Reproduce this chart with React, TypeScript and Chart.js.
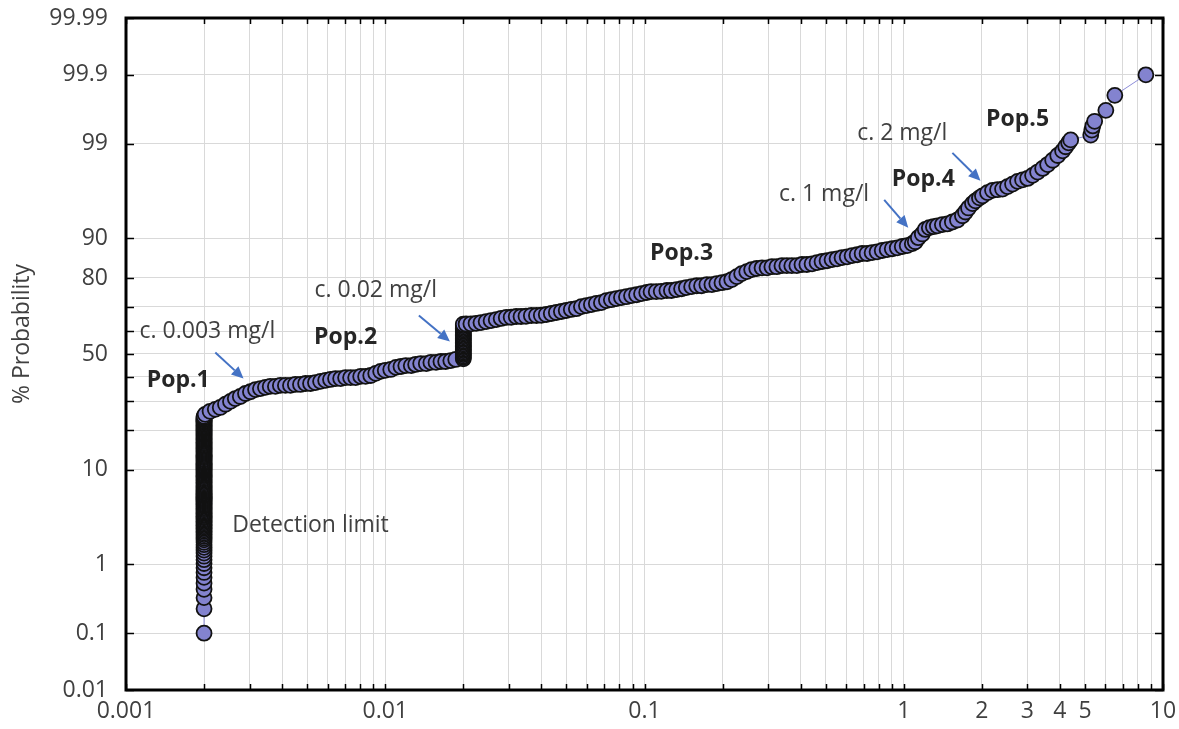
import { useEffect, useRef } from 'react';
import { Chart, registerables } from 'chart.js';

Chart.register(...registerables);

const FONT = '"Open Sans", "Liberation Sans", sans-serif';

// Concentration reported at the analytical detection limit (mg/l)
const detectionLimit = 0.002;
// Cumulative % probability of the samples reported at the detection limit
const detectionLimitPct = [
  0.1, 0.24, 0.35, 0.46, 0.56, 0.67, 0.78, 0.9, 1.02, 1.14, 1.26, 1.38, 1.5, 1.62, 1.74, 1.86,
  1.98, 2.08, 2.18, 2.28, 2.38, 2.48, 2.58, 2.68, 2.78, 2.88, 2.98, 3.08, 3.18, 3.28, 3.38,
  3.48, 3.58, 3.68, 3.78, 3.88, 3.98, 4.1, 4.22, 4.34, 4.46, 4.58, 4.7, 4.82, 4.94, 5.06,
  5.18, 5.3, 5.42, 5.54, 5.66, 5.78, 5.9, 6.02, 6.14, 6.26, 6.4, 6.55, 6.7, 6.85, 7.0, 7.15,
  7.3, 7.5, 7.7, 7.9, 8.1, 8.3, 8.5, 8.7, 8.9, 9.1, 9.3, 9.5, 9.7, 9.9, 10.1, 10.3, 10.5,
  10.7, 10.9, 11.1, 11.3, 11.5, 11.75, 12.0, 12.25, 12.5, 12.75, 13.0, 13.25, 13.5, 13.75,
  14.0, 14.25, 14.5, 14.75, 15.0, 15.25, 15.5, 15.75, 16.0, 16.3, 16.6, 16.9, 17.2, 17.5,
  17.8, 18.1, 18.4, 18.7, 19.0, 19.3, 19.6, 19.9, 20.2, 20.5, 20.8, 21.1, 21.4, 21.7, 22.0,
  22.3, 22.6, 22.9, 23.2, 23.5, 23.8, 24.1, 24.5,
];

// Populations 1 and 2: above the detection limit, up to c. 0.02 mg/l
const pop12Conc = [
  0.00202, 0.00211, 0.00221, 0.00231, 0.00242, 0.00253, 0.00264, 0.00276, 0.00289, 0.00302,
  0.00316, 0.0033, 0.00345, 0.0036, 0.00377, 0.00394, 0.00412, 0.00431, 0.0045, 0.00471,
  0.00493, 0.00515, 0.00538, 0.00563, 0.00589, 0.00615, 0.00643, 0.00673, 0.00703, 0.00735,
  0.00769, 0.00804, 0.0084, 0.00879, 0.00919, 0.0096, 0.01, 0.0105, 0.011, 0.0115,
  0.012, 0.0126, 0.0131, 0.0137, 0.0144, 0.015, 0.0157, 0.0164, 0.0171, 0.0179, 0.0187,
];
const pop12Pct = [
  25.2, 26.3, 27.0, 27.7, 28.9, 30.0, 31.1, 31.9, 33.1, 33.8,
  34.7, 35.1, 35.6, 36.0, 36.0, 36.4, 36.4, 36.4, 36.8, 36.8,
  37.2, 37.2, 37.6, 38.1, 38.5, 38.9, 39.3, 39.3, 39.7, 39.7,
  39.7, 40.2, 40.2, 40.6, 41.5, 42.4, 42.8, 43.2, 44.1, 44.5,
  44.9, 44.9, 45.4, 45.8, 45.8, 46.3, 46.3, 46.7, 46.7, 47.1, 47.6,
];

// Samples reported at 0.02 mg/l
const reportedLevel = 0.02;
const reportedLevelPct = [
  47.9, 48.5, 49.1, 49.7, 50.3, 50.9, 51.5, 52.1, 52.7, 53.3, 53.9, 54.5, 55.1, 55.7, 56.3,
  56.9, 57.5, 58.1, 58.7, 59.3, 59.9, 60.5, 61.1, 61.7, 62.3, 62.9,
];

// Population 3: c. 0.02 to c. 1 mg/l
const pop3Conc = [
  0.0205, 0.0214, 0.0224, 0.0234, 0.0245, 0.0256, 0.0268, 0.028, 0.0293, 0.0306,
  0.032, 0.0334, 0.0349, 0.0366, 0.0383, 0.04, 0.0418, 0.0437, 0.0457, 0.0478,
  0.0499, 0.0522, 0.0546, 0.0571, 0.0597, 0.0624, 0.0652, 0.0682, 0.0713, 0.0745,
  0.0779, 0.0815, 0.0852, 0.0891, 0.0932, 0.0974, 0.102, 0.106, 0.111, 0.116,
  0.122, 0.127, 0.133, 0.139, 0.145, 0.152, 0.159, 0.166, 0.174, 0.182,
  0.19, 0.199, 0.208, 0.217, 0.227, 0.237, 0.248, 0.259, 0.271, 0.284,
  0.297, 0.31, 0.324, 0.339, 0.354, 0.37, 0.387, 0.405, 0.423, 0.443,
  0.463, 0.484, 0.506, 0.529, 0.553, 0.578, 0.605, 0.632, 0.661, 0.691,
  0.722, 0.755, 0.789, 0.826, 0.863, 0.903, 0.944, 0.987, 1.031,
];
const pop3Pct = [
  63.0, 63.1, 63.3, 63.6, 64.0, 64.4, 64.8, 65.3, 65.7, 65.8,
  66.1, 66.1, 66.2, 66.5, 66.5, 66.6, 66.9, 67.3, 67.7, 68.1,
  68.5, 68.9, 69.2, 70.0, 70.4, 70.8, 71.2, 71.5, 72.3, 72.6,
  73.0, 73.4, 73.7, 74.1, 74.4, 74.8, 75.2, 75.5, 75.5, 75.6,
  75.9, 75.9, 76.2, 76.5, 76.9, 77.2, 77.5, 77.5, 77.9, 77.9,
  78.2, 78.5, 78.8, 79.5, 80.4, 81.3, 81.9, 82.5, 82.8, 83.0,
  83.0, 83.3, 83.3, 83.6, 83.6, 83.6, 83.6, 83.9, 83.9, 84.1,
  84.4, 84.7, 84.9, 85.2, 85.4, 85.7, 85.9, 86.2, 86.4, 86.7,
  86.7, 86.9, 87.1, 87.4, 87.6, 87.8, 88.0, 88.3, 88.5,
];

// Populations 4 and 5: above c. 1 mg/l
const pop45Conc = [
  1.079, 1.108, 1.138, 1.179, 1.211, 1.255, 1.301, 1.348, 1.409, 1.473,
  1.54, 1.611, 1.684, 1.73, 1.777, 1.841, 1.891, 1.959, 2.012, 2.104,
  2.2, 2.3, 2.405, 2.514, 2.628, 2.748, 2.873, 3.004, 3.14, 3.283,
  3.434, 3.589, 3.754, 3.926, 4.1, 4.214, 4.325, 4.406, 5.265, 5.313,
  5.36, 5.45, 6.02, 6.52, 8.59,
];
const pop45Pct = [
  88.9, 89.3, 90.1, 90.8, 91.6, 91.9, 92.06, 92.2, 92.4, 92.5,
  92.8, 93.1, 93.7, 94.2, 94.7, 95.2, 95.5, 95.8, 96.0, 96.3,
  96.5, 96.55, 96.6, 96.8, 97.0, 97.2, 97.3, 97.4, 97.6, 97.8,
  98.0, 98.2, 98.4, 98.6, 98.77, 98.91, 99.03, 99.11, 99.23, 99.34,
  99.42, 99.5, 99.65, 99.79, 99.9,
];

// Probability axis: grid lines and their labels
const yGridPct = [0.01, 0.1, 1, 10, 20, 30, 40, 50, 60, 70, 80, 90, 99, 99.9, 99.99];
const yTickLabels = ['0.01', '0.1', '1', '10', '', '', '', '50', '', '', '80', '90', '99', '99.9', '99.99'];

// Concentration axis (log): decades and labelled values
const xMin = 0.001;
const xMax = 10;
const xDecades = [0.001, 0.01, 0.1, 1];
const xMultipliers = [1, 2, 3, 4, 5, 6, 7, 8, 9];
const xTickValues = [0.001, 0.01, 0.1, 1, 2, 3, 4, 5, 10];
const xTickLabels = ['0.001', '0.01', '0.1', '1', '2', '3', '4', '5', '10'];

// Text annotations placed in data coordinates (mg/l, % probability)
const notes = [
  { text: 'Pop.1', bold: true, x: 0.00159, p: 38.5 },
  { text: 'c. 0.003 mg/l', bold: false, x: 0.00206, p: 59.8 },
  { text: 'Pop.2', bold: true, x: 0.00703, p: 57.2 },
  { text: 'c. 0.02 mg/l', bold: false, x: 0.00919, p: 75.9 },
  { text: 'Pop.3', bold: true, x: 0.139, p: 86.7 },
  { text: 'c. 1 mg/l', bold: false, x: 0.4926, p: 96.1 },
  { text: 'Pop.4', bold: true, x: 1.19, p: 97.3 },
  { text: 'c. 2 mg/l', bold: false, x: 0.9867, p: 99.26 },
  { text: 'Pop.5', bold: true, x: 2.748, p: 99.53 },
  { text: 'Detection limit', bold: false, x: 0.00515, p: 2.9 },
];
const arrowFrom = [
  [0.00221, 50.7],
  [0.01348, 66.5],
  [0.8406, 95.6],
  [1.54, 98.7],
];
const arrowTo = [
  [0.00284, 39.3],
  [0.01776, 55.5],
  [1.041, 91.9],
  [1.977, 97.24],
];

// Inverse of the standard normal CDF (Acklam's rational approximation)
function probit(p: number): number {
  const a = [-39.69683028665376, 220.9460984245205, -275.9285104469687, 138.357751867269, -30.66479806614716, 2.506628277459239];
  const b = [-54.47609879822406, 161.5858368580409, -155.6989798598866, 66.80131188771972, -13.28068155288572];
  const c = [-0.007784894002430293, -0.3223964580411365, -2.400758277161838, -2.549732539343734, 4.374664141464968, 2.938163982698783];
  const d = [0.007784695709041462, 0.3224671290700398, 2.445134137142996, 3.754408661907416];
  const plow = 0.02425;
  if (p < plow) {
    const q = Math.sqrt(-2 * Math.log(p));
    return (((((c[0] * q + c[1]) * q + c[2]) * q + c[3]) * q + c[4]) * q + c[5]) /
      ((((d[0] * q + d[1]) * q + d[2]) * q + d[3]) * q + 1);
  }
  if (p <= 1 - plow) {
    const q = p - 0.5;
    const r = q * q;
    return ((((((a[0] * r + a[1]) * r + a[2]) * r + a[3]) * r + a[4]) * r + a[5]) * q) /
      (((((b[0] * r + b[1]) * r + b[2]) * r + b[3]) * r + b[4]) * r + 1);
  }
  const q = Math.sqrt(-2 * Math.log(1 - p));
  return -(((((c[0] * q + c[1]) * q + c[2]) * q + c[3]) * q + c[4]) * q + c[5]) /
    ((((d[0] * q + d[1]) * q + d[2]) * q + d[3]) * q + 1);
}

const z = (pct: number) => probit(pct / 100);

function buildPoints() {
  const pts: { x: number; y: number }[] = [];
  detectionLimitPct.forEach((p) => pts.push({ x: detectionLimit, y: z(p) }));
  pop12Conc.forEach((c, i) => pts.push({ x: c, y: z(pop12Pct[i]) }));
  reportedLevelPct.forEach((p) => pts.push({ x: reportedLevel, y: z(p) }));
  pop3Conc.forEach((c, i) => pts.push({ x: c, y: z(pop3Pct[i]) }));
  pop45Conc.forEach((c, i) => pts.push({ x: c, y: z(pop45Pct[i]) }));
  return pts;
}

const TEXT = '#404040';

const overlayPlugin = {
  id: 'probOverlay',
  afterDatasetsDraw(chart: any) {
    const { ctx, chartArea: a, scales } = chart;
    const xs = scales.x;
    const ys = scales.y;
    ctx.save();

    // inward tick marks on all four sides
    ctx.strokeStyle = '#000';
    ctx.lineWidth = 1.5;
    ctx.beginPath();
    xs.ticks.forEach((t: any) => {
      const px = Math.round(xs.getPixelForValue(t.value)) + 0.5;
      ctx.moveTo(px, a.bottom);
      ctx.lineTo(px, a.bottom - 6);
      ctx.moveTo(px, a.top);
      ctx.lineTo(px, a.top + 6);
    });
    ys.ticks.forEach((t: any) => {
      const py = Math.round(ys.getPixelForValue(t.value)) + 0.5;
      ctx.moveTo(a.left, py);
      ctx.lineTo(a.left + 8, py);
      ctx.moveTo(a.right, py);
      ctx.lineTo(a.right - 8, py);
    });
    ctx.stroke();

    // plot frame
    ctx.lineWidth = 3;
    ctx.strokeRect(a.left, a.top, a.right - a.left, a.bottom - a.top);

    // arrows
    ctx.strokeStyle = '#4472C4';
    ctx.fillStyle = '#4472C4';
    ctx.lineWidth = 2;
    arrowFrom.forEach((f, i) => {
      const t = arrowTo[i];
      const x1 = xs.getPixelForValue(f[0]);
      const y1 = ys.getPixelForValue(z(f[1]));
      const x2 = xs.getPixelForValue(t[0]);
      const y2 = ys.getPixelForValue(z(t[1]));
      const ang = Math.atan2(y2 - y1, x2 - x1);
      const head = 12;
      const hx = x2 - head * Math.cos(ang);
      const hy = y2 - head * Math.sin(ang);
      ctx.beginPath();
      ctx.moveTo(x1, y1);
      ctx.lineTo(hx, hy);
      ctx.stroke();
      ctx.beginPath();
      ctx.moveTo(x2, y2);
      ctx.lineTo(hx + 5.5 * Math.sin(ang), hy - 5.5 * Math.cos(ang));
      ctx.lineTo(hx - 5.5 * Math.sin(ang), hy + 5.5 * Math.cos(ang));
      ctx.closePath();
      ctx.fill();
    });

    // text notes
    ctx.textAlign = 'center';
    ctx.textBaseline = 'middle';
    notes.forEach((n) => {
      ctx.font = `${n.bold ? 'bold ' : ''}23px ${FONT}`;
      ctx.fillStyle = n.bold ? '#262626' : TEXT;
      ctx.fillText(n.text, xs.getPixelForValue(n.x), ys.getPixelForValue(z(n.p)));
    });

    // y axis title
    ctx.save();
    ctx.translate(22, (a.top + a.bottom) / 2 - 20);
    ctx.rotate(-Math.PI / 2);
    ctx.font = `23px ${FONT}`;
    ctx.fillStyle = TEXT;
    ctx.fillText('% Probability', 0, 0);
    ctx.restore();

    ctx.restore();
  },
};

export default function App() {
  const canvasRef = useRef<HTMLCanvasElement>(null);

  useEffect(() => {
    const canvas = canvasRef.current;
    if (!canvas) return;
    const xGrid: number[] = [];
    xDecades.forEach((d) => xMultipliers.forEach((m) => xGrid.push(+(d * m).toPrecision(3))));
    xGrid.push(xMax);

    const chart = new Chart(canvas, {
      type: 'scatter',
      data: {
        datasets: [
          {
            data: buildPoints(),
            showLine: true,
            borderColor: '#8c8cd8',
            borderWidth: 1,
            pointRadius: 7.5,
            pointBorderWidth: 1.8,
            pointBackgroundColor: '#8383cf',
            pointBorderColor: '#121212',
          },
        ],
      },
      options: {
        responsive: false,
        animation: false,
        devicePixelRatio: 1,
        layout: { padding: { left: 0, top: 18, right: 16, bottom: 0 } },
        plugins: { legend: { display: false }, tooltip: { enabled: false } },
        scales: {
          x: {
            type: 'logarithmic',
            min: xMin,
            max: xMax,
            afterBuildTicks: (axis: any) => {
              axis.ticks = xGrid.map((v) => ({ value: v }));
            },
            afterFit: (axis: any) => {
              axis.height = 39;
              axis.paddingLeft = 0;
              axis.paddingRight = 0;
            },
            border: { display: false },
            grid: { color: '#d9d9d9', lineWidth: 1, drawTicks: false },
            ticks: {
              autoSkip: false,
              maxRotation: 0,
              minRotation: 0,
              padding: 8,
              color: TEXT,
              font: { family: FONT, size: 23 },
              callback: (value: any) => {
                const i = xTickValues.findIndex((v) => Math.abs(v - Number(value)) < 1e-9 * Math.max(1, v));
                return i >= 0 ? xTickLabels[i] : '';
              },
            },
          },
          y: {
            type: 'linear',
            min: z(0.01),
            max: z(99.99),
            afterBuildTicks: (axis: any) => {
              axis.ticks = yGridPct.map((p) => ({ value: z(p) }));
            },
            afterFit: (axis: any) => {
              axis.width = 126;
              axis.paddingTop = 0;
              axis.paddingBottom = 0;
            },
            border: { display: false },
            grid: { color: '#d9d9d9', lineWidth: 1, drawTicks: false },
            ticks: {
              autoSkip: false,
              padding: 18,
              color: TEXT,
              font: { family: FONT, size: 23 },
              callback: (_v: any, i: number) => yTickLabels[i],
            },
          },
        },
      },
      plugins: [overlayPlugin],
    });
    return () => chart.destroy();
  }, []);

  return (
    <div style={{ position: 'fixed', left: 0, top: 0, width: 1179, height: 729, background: '#fff' }}>
      <canvas ref={canvasRef} width={1179} height={729} style={{ display: 'block', width: 1179, height: 729 }} />
    </div>
  );
}
